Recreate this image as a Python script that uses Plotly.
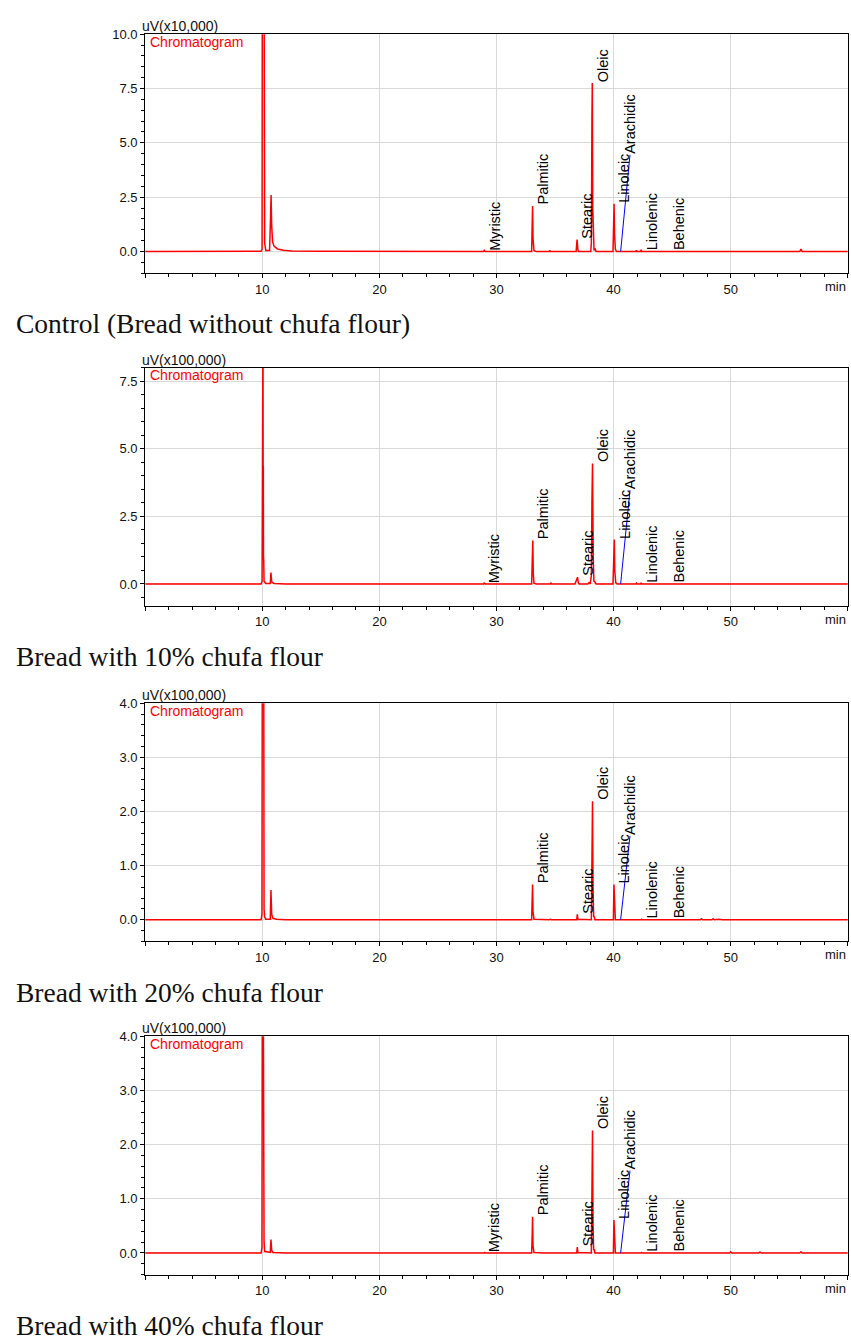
import plotly.graph_objects as go

W, H = 851, 1340

# ------------------------------------------------------------------ data
time_ticks = [0, 10, 20, 30, 40, 50, 60]
captions = [
    "Control (Bread without chufa flour)",
    "Bread with 10% chufa flour",
    "Bread with 20% chufa flour",
    "Bread with 40% chufa flour",
]
unit_labels = ["uV(x10,000)", "uV(x100,000)", "uV(x100,000)", "uV(x100,000)"]

# Panel 1 (uV x10,000)
p1_time = [0.0, 7.0, 9.9, 9.98, 10.0, 10.15, 10.2, 10.3, 10.62, 10.7, 10.75, 10.8, 10.88,
           11.0, 11.3, 11.8, 12.5, 15.0, 28.9, 28.95, 29.05, 33.0, 33.05, 33.08, 33.12,
           33.2, 33.4, 34.5, 34.55, 34.6, 36.8, 36.88, 36.95, 37.0, 38.05, 38.1, 38.15,
           38.18, 38.22, 38.27, 38.33, 38.4, 38.5, 39.95, 40.0, 40.04, 40.08, 40.15, 40.25,
           41.9, 41.95, 42.0, 42.3, 42.35, 42.4, 47.0, 55.9, 56.0, 56.1, 60.0]
p1_signal = [0.0, 0.0, 0.01, 0.1, 13.0, 13.0, 0.4, 0.05, 0.05, 1.5, 2.6, 1.2, 0.45,
             0.25, 0.12, 0.06, 0.03, 0.01, 0.0, 0.06, 0.0, 0.0, 1.2, 2.1, 0.6,
             0.05, 0.0, 0.0, 0.05, 0.0, 0.0, 0.55, 0.1, 0.0, 0.0, 0.4, 6.1,
             7.75, 2.0, 0.3, 0.05, 0.15, 0.0, 0.0, 1.0, 2.2, 0.8, 0.1, 0.0,
             0.0, 0.06, 0.0, 0.0, 0.08, 0.0, 0.01, 0.0, 0.12, 0.0, 0.0]

# Panel 2 (uV x100,000)
p2_time = [0.0, 9.9, 9.98, 10.0, 10.06, 10.07, 10.09, 10.1, 10.12, 10.15, 10.3, 10.68,
           10.74, 10.8, 11.0, 12.0, 28.9, 28.95, 29.05, 33.0, 33.05, 33.1, 33.14, 33.2,
           33.4, 34.6, 34.65, 34.7, 36.7, 36.8, 36.92, 36.98, 37.05, 37.8, 37.9, 38.0,
           38.1, 38.15, 38.2, 38.26, 38.32, 38.4, 38.5, 39.95, 40.02, 40.06, 40.1, 40.18,
           40.3, 41.9, 41.95, 42.0, 42.3, 42.35, 42.4, 60.0]
p2_signal = [0.0, 0.0, 0.1, 10.0, 10.0, 4.4, 4.3, 1.0, 0.9, 0.1, 0.02, 0.02,
             0.42, 0.08, 0.02, 0.0, 0.0, 0.03, 0.0, 0.0, 0.9, 1.61, 0.4, 0.03,
             0.0, 0.0, 0.03, 0.0, 0.0, 0.1, 0.25, 0.05, 0.0, 0.0, 0.05, 0.0,
             0.3, 3.0, 4.46, 1.0, 0.1, 0.08, 0.0, 0.0, 1.0, 1.64, 0.5, 0.05,
             0.0, 0.0, 0.03, 0.0, 0.0, 0.04, 0.0, 0.0]

# Panel 3 (uV x100,000)
p3_time = [0.0, 9.9, 9.97, 10.0, 10.12, 10.13, 10.15, 10.2, 10.3, 10.68, 10.74, 10.8,
           10.9, 11.2, 12.0, 33.0, 33.05, 33.08, 33.12, 33.2, 34.5, 34.6, 34.7, 36.85,
           36.9, 36.95, 38.1, 38.15, 38.2, 38.24, 38.3, 38.35, 38.4, 39.98, 40.03, 40.08,
           40.15, 42.35, 42.4, 42.45, 47.4, 47.5, 47.6, 48.4, 48.5, 48.6, 49.0, 49.3, 60.0]
p3_signal = [0.0, 0.0, 0.1, 5.0, 5.0, 1.08, 0.2, 0.05, 0.01, 0.01, 0.55, 0.1,
             0.03, 0.01, 0.0, 0.0, 0.35, 0.65, 0.15, 0.01, 0.0, 0.01, 0.0, 0.0,
             0.1, 0.01, 0.0, 1.0, 2.19, 0.6, 0.05, 0.06, 0.0, 0.0, 0.65, 0.15,
             0.0, 0.0, 0.01, 0.0, 0.0, 0.02, 0.0, 0.0, 0.02, 0.0, 0.01, 0.0, 0.0]

# Panel 4 (uV x100,000)
p4_time = [0.0, 9.9, 9.97, 10.0, 10.08, 10.1, 10.12, 10.13, 10.15, 10.2, 10.68, 10.74,
           10.8, 10.9, 12.0, 28.95, 29.0, 29.05, 33.0, 33.05, 33.08, 33.12, 33.2, 34.0,
           36.85, 36.9, 36.95, 38.1, 38.15, 38.2, 38.24, 38.3, 38.35, 38.4, 39.98, 40.03,
           40.08, 40.15, 42.35, 42.4, 42.45, 49.9, 50.0, 50.1, 52.4, 52.5, 52.6, 55.9,
           56.0, 56.1, 60.0]
p4_signal = [0.0, 0.0, 0.1, 5.0, 5.0, 2.86, 2.8, 0.73, 0.2, 0.03, 0.01, 0.25,
             0.05, 0.01, 0.0, 0.0, 0.01, 0.0, 0.0, 0.35, 0.67, 0.12, 0.01, 0.0,
             0.0, 0.11, 0.01, 0.0, 1.2, 2.26, 0.5, 0.05, 0.07, 0.0, 0.0, 0.61,
             0.15, 0.0, 0.0, 0.01, 0.0, 0.0, 0.02, 0.0, 0.0, 0.02, 0.0, 0.0,
             0.02, 0.0, 0.0]

# Peak labels: name, retention time (min), label base height
p1_peak_names = ["Myristic", "Palmitic", "Stearic", "Oleic", "Linoleic", "Linolenic", "Behenic"]
p1_peak_rt = [28.95, 33.08, 36.88, 38.18, 40.04, 42.4, 44.65]
p1_peak_height = [0.0, 2.1, 0.55, 7.75, 2.2, 0.0, 0.0]

p2_peak_names = ["Myristic", "Palmitic", "Stearic", "Oleic", "Linoleic", "Linolenic", "Behenic"]
p2_peak_rt = [28.95, 33.1, 36.92, 38.2, 40.06, 42.4, 44.65]
p2_peak_height = [0.0, 1.61, 0.25, 4.46, 1.64, 0.0, 0.0]

p3_peak_names = ["Palmitic", "Stearic", "Oleic", "Linoleic", "Linolenic", "Behenic"]
p3_peak_rt = [33.08, 36.9, 38.2, 40.03, 42.4, 44.65]
p3_peak_height = [0.65, 0.1, 2.19, 0.65, 0.0, 0.0]

p4_peak_names = ["Myristic", "Palmitic", "Stearic", "Oleic", "Linoleic", "Linolenic", "Behenic"]
p4_peak_rt = [28.95, 33.08, 36.9, 38.2, 40.03, 42.4, 44.65]
p4_peak_height = [0.0, 0.67, 0.11, 2.26, 0.61, 0.0, 0.0]

# Arachidic label with leader line
arachidic_rt_from = 40.6
arachidic_rt_to = 41.4
arachidic_height = [4.45, 3.47, 1.55, 1.52]

# y axis settings per panel: range, major step, minor step
y_ranges = [[-1.0, 10.0], [-0.8, 8.0], [-0.4, 4.0], [-0.4, 4.0]]
y_major = [2.5, 2.5, 1.0, 1.0]
y_minor = [0.5, 0.5, 0.2, 0.2]

# ------------------------------------------------------------------ layout helpers
panel_px = [(27.3, 267.7), (362.7, 601.7), (700.0, 939.3), (1034.7, 1274.3)]
X0PX, X1PX = 145.2, 847.8


def pxx(p):
    return p / W


def pxy(p):
    return 1 - p / H


SANS = "Liberation Sans, Arial, sans-serif"
SERIF = "Liberation Serif, Times New Roman, serif"

panels = [
    (p1_time, p1_signal, p1_peak_names, p1_peak_rt, p1_peak_height),
    (p2_time, p2_signal, p2_peak_names, p2_peak_rt, p2_peak_height),
    (p3_time, p3_signal, p3_peak_names, p3_peak_rt, p3_peak_height),
    (p4_time, p4_signal, p4_peak_names, p4_peak_rt, p4_peak_height),
]

fig = go.Figure()
annotations = []
layout_axes = {}

for i, (t, s, names, rts, hts) in enumerate(panels):
    k = i + 1
    xr = "x" if k == 1 else f"x{k}"
    yr = "y" if k == 1 else f"y{k}"
    top, bot = panel_px[i]

    fig.add_trace(go.Scatter(x=t, y=s, mode="lines", xaxis=xr, yaxis=yr,
                             line=dict(color="#ff0000", width=1.5), hoverinfo="skip"))
    fig.add_trace(go.Scatter(x=[arachidic_rt_from, arachidic_rt_to],
                             y=[0.0, arachidic_height[i]], mode="lines", xaxis=xr, yaxis=yr,
                             line=dict(color="#0000ff", width=1), hoverinfo="skip"))

    layout_axes["xaxis" if k == 1 else f"xaxis{k}"] = dict(
        domain=[pxx(X0PX), pxx(X1PX)], range=[0, 60], anchor=yr,
        tickmode="array", tickvals=time_ticks,
        ticktext=["" if v in (0, 60) else str(v) for v in time_ticks],
        ticks="outside", ticklen=4, tickcolor="black", tickwidth=1,
        showline=True, linecolor="black", linewidth=1, mirror=True,
        showgrid=True, gridcolor="#d9d9d9", gridwidth=1, zeroline=False,
        tickfont=dict(family=SANS, size=13, color="#111"),
        minor=dict(tickmode="linear", tick0=0, dtick=2, ticks="outside", ticklen=3,
                   tickcolor="black", showgrid=False),
        fixedrange=True,
    )
    layout_axes["yaxis" if k == 1 else f"yaxis{k}"] = dict(
        domain=[pxy(bot), pxy(top)], range=y_ranges[i], anchor=xr,
        tickmode="linear", tick0=0, dtick=y_major[i], tickformat=".1f",
        ticks="outside", ticklen=4, tickcolor="black", tickwidth=1,
        showline=True, linecolor="black", linewidth=1, mirror=True,
        showgrid=True, gridcolor="#d9d9d9", gridwidth=1, zeroline=False,
        tickfont=dict(family=SANS, size=13, color="#111"),
        minor=dict(tickmode="linear", tick0=0, dtick=y_minor[i], ticks="outside", ticklen=3,
                   tickcolor="black", showgrid=False),
        fixedrange=True,
    )

    # peak labels
    for name, rt, h in zip(names, rts, hts):
        annotations.append(dict(
            x=rt, y=h, xref=xr, yref=yr, text=name, textangle=-90, showarrow=False,
            xanchor="left", yanchor="bottom", borderpad=0, xshift=1.5,
            font=dict(family=SANS, size=14.5, color="black")))
    annotations.append(dict(
        x=arachidic_rt_to, y=arachidic_height[i], xref=xr, yref=yr, text="Arachidic",
        textangle=-90, showarrow=False, xanchor="center", yanchor="bottom", borderpad=0,
        font=dict(family=SANS, size=14.5, color="black")))

    # units label
    annotations.append(dict(
        x=pxx(141), y=pxy(top + 1), xref="paper", yref="paper", text=unit_labels[i],
        showarrow=False, xanchor="left", yanchor="bottom", borderpad=0,
        font=dict(family=SANS, size=14, color="#111")))
    # Chromatogram legend
    annotations.append(dict(
        x=pxx(149), y=pxy(top - 1.5), xref="paper", yref="paper", text="Chromatogram",
        showarrow=False, xanchor="left", yanchor="top", borderpad=0,
        font=dict(family=SANS, size=14, color="#ff0000")))
    # axis unit "min"
    annotations.append(dict(
        x=pxx(847), y=pxy(bot + 5), xref="paper", yref="paper", text="min",
        showarrow=False, xanchor="right", yanchor="top", borderpad=0,
        font=dict(family=SANS, size=13, color="#111")))
    # caption
    annotations.append(dict(
        x=pxx(15), y=pxy(bot + 67.5), xref="paper", yref="paper", text=captions[i],
        showarrow=False, xanchor="left", yanchor="bottom", borderpad=0,
        font=dict(family=SERIF, size=27.5, color="#111")))

fig.update_layout(
    width=W, height=H, margin=dict(l=0, r=0, t=0, b=0),
    paper_bgcolor="white", plot_bgcolor="white", showlegend=False,
    annotations=annotations, **layout_axes,
)

fig.write_html("out.html", config={"displayModeBar": False})
